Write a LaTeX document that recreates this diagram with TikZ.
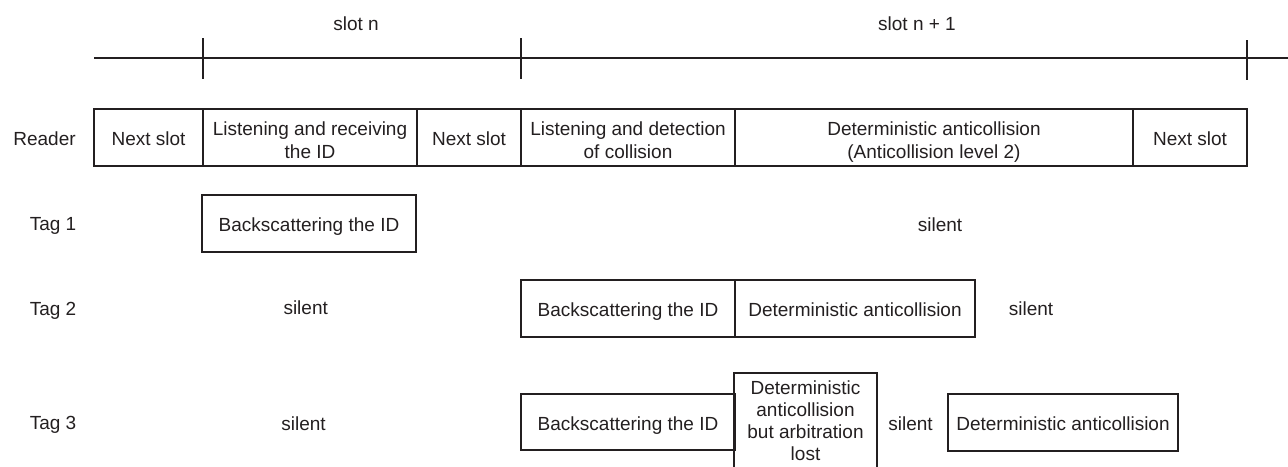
\documentclass[tikz,border=0pt]{standalone}
\usepackage{fontspec}
\setmainfont{Liberation Sans}
\definecolor{ink}{RGB}{35,31,32}
% stacked lines for multi-line cells, first baseline as reference point
\newcommand\cellstack[2]{{\fontsize{19}{#1}\selectfont
  \begin{tabular}[t]{@{}c@{}}#2\end{tabular}}}
\begin{document}
\begin{tikzpicture}[x=1pt,y=-1pt,
  every node/.style={font=\fontsize{19}{23}\selectfont, text=ink},
  cell/.style={draw=ink, line width=1.6pt, inner sep=0pt,
               minimum height=57pt, text height=16pt, text depth=0pt},
  twoline/.style={text height=0pt, text depth=5pt},
  word/.style={anchor=base},
  axis/.style={draw=ink, line width=1.3pt}
]
\useasboundingbox (0,0) rectangle (1288,466);
\clip (0,0) rectangle (1288,466);

% time axis with slot boundaries
\coordinate (axL) at (94,58);
\coordinate (axR) at (1288,58);
\coordinate (k1t) at (203,38);  \coordinate (k1b) at (203,79);
\coordinate (k2t) at (521,38);  \coordinate (k2b) at (521,79);
\coordinate (k3t) at (1247,40); \coordinate (k3b) at (1247,80);
\draw[axis] (axL) -- (axR);
\draw[axis] (k1t) -- (k1b);
\draw[axis] (k2t) -- (k2b);
\draw[axis] (k3t) -- (k3b);
\node[word] (slotn)  at (356,30) {slot n};
\node[word] (slotn1) at (917,30) {slot n + 1};

% row labels
\node[word] (lreader) at (44.5,145.7) {Reader};
\node[word] (ltag1)   at (53,230.7)   {Tag 1};
\node[word] (ltag2)   at (53,315)     {Tag 2};
\node[word] (ltag3)   at (53,429.3)   {Tag 3};

% reader
\node[cell, minimum width=109pt] (r1) at (148.5,137.5) {Next slot};
\node[cell, twoline, minimum width=214pt] (r2) at (310,137.5)
  {\cellstack{23.3}{Listening and receiving\\the ID}};
\node[cell, minimum width=104pt] (r3) at (469,137.5) {Next slot};
\node[cell, twoline, minimum width=214pt] (r4) at (628,137.5)
  {\cellstack{23.3}{Listening and detection\\of collision}};
\node[cell, twoline, minimum width=398pt] (r5) at (934,137.5)
  {\cellstack{23.3}{Deterministic anticollision\\(Anticollision level 2)}};
\node[cell, minimum width=114pt] (r6) at (1190,137.5) {Next slot};

% tag 1
\node[cell, minimum width=214pt] (t1a) at (309,223.5) {Backscattering the ID};
\node[word] (t1s) at (940,231) {silent};

% tag 2
\node[word] (t2s1) at (305.7,314.3) {silent};
\node[cell, minimum width=214pt] (t2a) at (628,308.5) {Backscattering the ID};
\node[cell, minimum width=240pt] (t2b) at (855,308.5) {Deterministic anticollision};
\node[word] (t2s2) at (1031,315) {silent};

% tag 3
\node[word] (t3s1) at (303.5,430) {silent};
\node[cell, minimum width=214pt, minimum height=56pt] (t3a) at (628,422) {Backscattering the ID};
\node[cell, minimum width=143pt, minimum height=100pt,
      text height=0pt, text depth=57.4pt] (t3b) at (805.5,423)
  {\cellstack{21.9}{Deterministic\\anticollision\\but arbitration\\lost}};
\node[word] (t3s2) at (910.5,430) {silent};
\node[cell, minimum width=230pt] (t3c) at (1063,422.5) {Deterministic anticollision};
\end{tikzpicture}
\end{document}
